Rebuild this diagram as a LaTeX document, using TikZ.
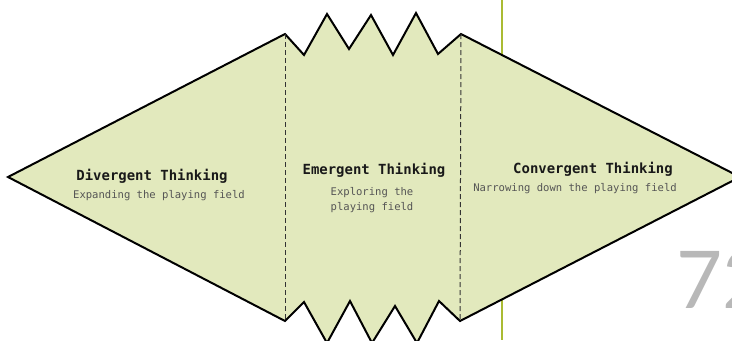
\documentclass[tikz,border=0pt]{standalone}
\usepackage{fontspec}
\setmonofont{DejaVu Sans Mono}
\newfontfamily\pagefont{Lato}
\usetikzlibrary{positioning}
\definecolor{fieldgreen}{HTML}{E2E9BD}
\definecolor{rulegreen}{HTML}{AABB33}
\definecolor{subgray}{HTML}{555555}
\tikzset{
	thinkstyle/.style={
		x=1bp, y=-1bp,
		line join=miter,
		every node/.style={inner sep=0pt}}}

\begin{document}
\begin{tikzpicture}[thinkstyle,
	every text node part/.style={align=center},
	title/.style={font=\ttfamily\bfseries\fontsize{14}{16}\selectfont, text=black!90},
	sub/.style={font=\ttfamily\fontsize{10.6}{15}\selectfont, text=subgray},
	outline/.style={draw=black, line width=2bp, fill=fieldgreen},
	divider/.style={draw=black!80, dash pattern=on 5bp off 3bp, line width=1bp},
	]
	\useasboundingbox (0,0) rectangle (732,340);
	\clip (0,0) rectangle (732,340);
	
	% page rule behind the shape
	\coordinate (r0) at (502,0);
	\coordinate (r1) at (502,340);
	\draw[rulegreen, line width=1.4bp] (r0) -- (r1);
	
	% corners of the field
	\coordinate (lt) at (8,177);
	\coordinate (rt) at (740,177);
	\coordinate (a0) at (285,34);
	\coordinate (a1) at (461,34);
	\coordinate (b0) at (285,321);
	\coordinate (b1) at (460,321);
	
	\draw[outline] (lt) -- (a0) -- (304,55) -- (327,14) -- (349,49) -- (371,15)
		-- (393,55) -- (416,13) -- (438,54) -- (a1) -- (rt)
		-- (b1) -- (439,301) -- (417,343) -- (395,306) -- (372,343)
		-- (350,301) -- (327,343) -- (304,302) -- (b0) -- cycle;
	
	\draw[divider] (a0) -- (b0);
	\draw[divider] (a1) -- (b1);
	
	\node[title] (div) at (152,176) {Divergent Thinking};
	\node[sub, below=7bp of div, xshift=7bp] (divsub) {Expanding the playing field};
	
	\node[title] (emg) at (374,170) {Emergent Thinking};
	\node[sub, below=10bp of emg, xshift=-2bp] (emgsub) {Exploring the\\playing field};
	
	\node[title] (conv) at (593,169) {Convergent Thinking};
	\node[sub, below=7bp of conv, xshift=-18bp] (convsub) {Narrowing down the playing field};
	
	\node[font=\pagefont\fontsize{80}{80}\selectfont, text=black!28, anchor=base west] (pg) at (676,308) {72};
	
\end{tikzpicture}
\end{document}
